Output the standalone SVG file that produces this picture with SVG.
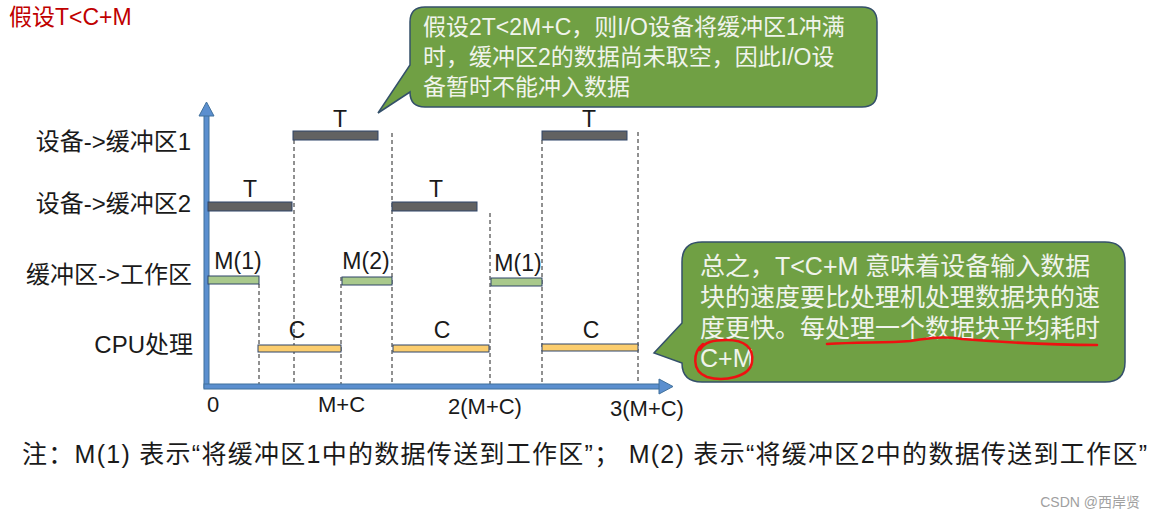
<svg xmlns="http://www.w3.org/2000/svg" width="1155" height="520" viewBox="0 0 1155 520">
<style>
.t{font-family:"Liberation Sans","Noto Sans CJK SC",sans-serif;fill:#1a1a1a}
.lbl{font-size:23px;text-anchor:middle}
.row{font-size:24px;text-anchor:end}
.bt{font-family:"Liberation Sans","Noto Sans CJK SC",sans-serif;fill:#f0f4ec}
.bar{stroke:#2f4468;stroke-width:1}
.g{fill:#626262}
.m{fill:#a9c98c}
.c{fill:#fbcd6e}
.dash{stroke:#222;stroke-width:1;stroke-dasharray:4 3;fill:none}
.ax{fill:#5b8fcf;stroke:#41719c;stroke-width:1}
.bub{fill:#70a044;stroke:#34506a;stroke-width:1.5}
.red{fill:none;stroke:#ee1111;stroke-width:2.5;stroke-linecap:round}
</style>
<rect width="1155" height="520" fill="#ffffff"/>

<text id="title" class="t" x="9" y="25" font-size="23" style="fill:#c00000">假设T&lt;C+M</text>

<g id="row-labels">
<text class="t row" x="191" y="150">设备-&gt;缓冲区1</text>
<text class="t row" x="191" y="212">设备-&gt;缓冲区2</text>
<text class="t row" x="192" y="283">缓冲区-&gt;工作区</text>
<text class="t row" x="193" y="353">CPU处理</text>
</g>

<g id="connectors">
<line class="dash" x1="259" y1="284" x2="259" y2="384"/>
<line class="dash" x1="294" y1="140" x2="294" y2="384"/>
<line class="dash" x1="341" y1="277" x2="341" y2="384"/>
<line class="dash" x1="392" y1="133" x2="392" y2="384"/>
<line class="dash" x1="490" y1="213" x2="490" y2="384"/>
<line class="dash" x1="542" y1="140" x2="542" y2="384"/>
<line class="dash" x1="638" y1="132" x2="638" y2="384"/>
</g>

<g id="axes">
<rect class="ax" x="204" y="115" width="5" height="273"/>
<polygon class="ax" points="206.5,102 214,116 199,116"/>
<rect class="ax" x="204" y="384" width="456" height="5"/>
<polygon class="ax" points="673,386.5 659,379 659,394"/>
</g>

<g id="bars-row1">
<rect class="bar g" x="293" y="131" width="85" height="9"/>
<rect class="bar g" x="542" y="131" width="85" height="9"/>
<text class="t lbl" x="340" y="127">T</text>
<text class="t lbl" x="589" y="127">T</text>
</g>
<g id="bars-row2">
<rect class="bar g" x="208" y="202" width="84" height="9"/>
<rect class="bar g" x="392" y="202" width="85" height="9"/>
<text class="t lbl" x="250" y="197">T</text>
<text class="t lbl" x="436" y="197">T</text>
</g>
<g id="bars-row3">
<rect class="bar m" x="208" y="276" width="51" height="8"/>
<rect class="bar m" x="342" y="277" width="50" height="8"/>
<rect class="bar m" x="491" y="278" width="51" height="8"/>
<text class="t lbl" x="238" y="269">M(1)</text>
<text class="t lbl" x="366" y="269">M(2)</text>
<text class="t lbl" x="518" y="271">M(1)</text>
</g>
<g id="bars-row4">
<rect class="bar c" x="258" y="345" width="83" height="7"/>
<rect class="bar c" x="393" y="345" width="96" height="7"/>
<rect class="bar c" x="542" y="344" width="96" height="7"/>
<text class="t lbl" x="297" y="338">C</text>
<text class="t lbl" x="442" y="338">C</text>
<text class="t lbl" x="591" y="338">C</text>
</g>

<g id="axis-labels">
<text class="t" x="207" y="412" font-size="22">0</text>
<text class="t" x="318" y="412" font-size="22">M+C</text>
<text class="t" x="448" y="414" font-size="22">2(M+C)</text>
<text class="t" x="610" y="416" font-size="22">3(M+C)</text>
</g>

<g id="bubble1">
<path class="bub" d="M425,7 H862 Q877,7 877,22 V92 Q877,107 862,107 H425 Q410,107 410,92 L378,113 L410,65 V22 Q410,7 425,7 Z"/>
<text class="bt" x="423" y="35" font-size="23">假设2T&lt;2M+C，则I/O设备将缓冲区1冲满</text>
<text class="bt" x="423" y="65" font-size="23">时，缓冲区2的数据尚未取空，因此I/O设</text>
<text class="bt" x="423" y="95" font-size="23">备暂时不能冲入数据</text>
</g>

<g id="bubble2">
<path class="bub" d="M702,242 H1105 Q1125,242 1125,262 V362 Q1125,382 1105,382 H702 Q682,382 682,363 L654,353 L682,323 V262 Q682,242 702,242 Z"/>
<text class="bt" x="700" y="275" font-size="25">总之，T&lt;C+M 意味着设备输入数据</text>
<text class="bt" x="700" y="306" font-size="25">块的速度要比处理机处理数据块的速</text>
<text class="bt" x="700" y="337" font-size="25">度更快。每处理一个数据块平均耗时</text>
<text class="bt" x="700" y="367" font-size="25">C+M</text>
<path class="red" d="M827,344 C860,342 885,343 910,341 C930,338 942,336 962,339 C1000,342 1050,345 1097,345"/>
<path class="red" d="M703,344 C693,352 691,371 707,377 C724,382 750,377 752,362 C754,348 745,340 727,340 C713,340 704,342 700,350"/>
</g>

<g id="footnote">
<text class="t" x="22" y="463" font-size="25" textLength="1125" lengthAdjust="spacing">注：M(1) 表示“将缓冲区1中的数据传送到工作区”； M(2) 表示“将缓冲区2中的数据传送到工作区”</text>
</g>

<text id="watermark" x="1140" y="507" font-size="14" text-anchor="end" style="font-family:'Liberation Sans','Noto Sans CJK SC',sans-serif;fill:#a0a0a0">CSDN @西岸贤</text>
</svg>
